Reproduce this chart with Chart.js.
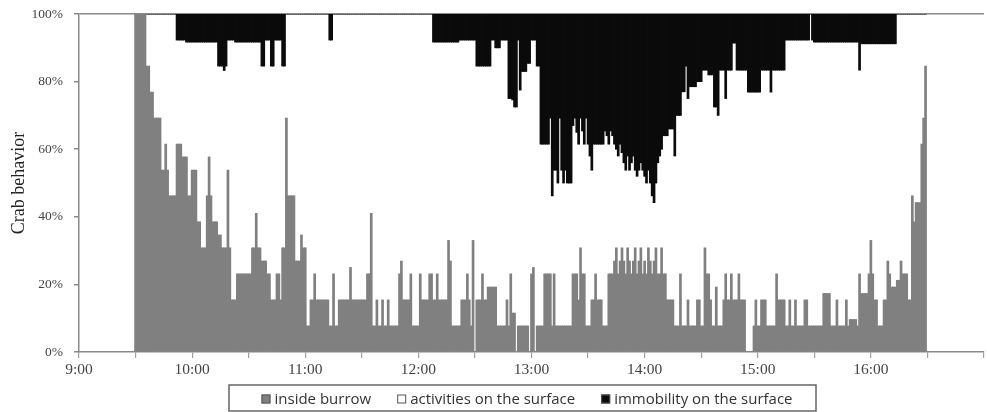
<!DOCTYPE html>
<html>
<head>
<meta charset="utf-8">
<script src="https://cdn.jsdelivr.net/npm/chart.js@4.4.1/dist/chart.umd.min.js"></script>
<style>
  html, body { margin: 0; padding: 0; background: #fff; }
</style>
</head>
<body>
<canvas id="c" width="987" height="412"></canvas>
<script>
// one bar per minute, 9:30 -> 16:29, share of crabs (%)
var startMinute = 30; // minutes after 9:00 of the first bar
var hourLabels = ['9:00', '10:00', '11:00', '12:00', '13:00', '14:00', '15:00', '16:00'];
var seriesNames = ['inside burrow', 'activities on the surface', 'immobility on the surface'];

var insideBurrow = [
  100,100,100,100,100,100,84.6,84.6,76.9,76.9,
  69.2,69.2,69.2,69.2,53.8,53.8,61.5,53.8,46.2,46.2,
  46.2,46.2,61.5,61.5,61.5,57.7,57.7,57.7,46.2,46.2,
  53.8,53.8,53.8,38.5,38.5,30.8,30.8,30.8,46.2,57.7,
  46.2,38.5,38.5,38.5,34.6,34.6,30.8,30.8,30.8,53.8,
  30.8,15.4,15.4,15.4,23.1,23.1,23.1,23.1,23.1,23.1,
  23.1,23.1,30.8,30.8,41.0,30.8,30.8,26.9,26.9,26.9,
  23.1,23.1,15.4,15.4,15.4,23.1,23.1,15.4,30.8,30.8,
  69.2,46.2,46.2,46.2,46.2,26.9,26.9,26.9,34.6,30.8,
  30.8,7.7,7.7,15.4,15.4,23.1,15.4,15.4,15.4,15.4,
  15.4,15.4,15.4,7.7,7.7,23.1,7.7,7.7,15.4,15.4,
  15.4,15.4,15.4,15.4,25.0,15.4,15.4,15.4,15.4,15.4,
  15.4,15.4,15.4,23.1,23.1,41.0,7.7,7.7,15.4,7.7,
  7.7,15.4,7.7,7.7,15.4,7.7,7.7,7.7,7.7,7.7,
  23.1,26.9,15.4,15.4,15.4,15.4,23.1,7.7,7.7,7.7,
  7.7,23.1,15.4,15.4,15.4,15.4,23.1,23.1,15.4,15.4,
  23.1,15.4,15.4,15.4,15.4,15.4,33.0,26.9,7.7,7.7,
  7.7,7.7,7.7,15.4,15.4,15.4,23.1,15.4,7.7,33.0,
  0,15.4,15.4,15.4,23.1,15.4,15.4,19.2,19.2,19.2,
  19.2,19.2,7.7,7.7,7.7,7.7,7.7,15.4,7.7,23.1,
  11.5,11.5,0,7.7,7.7,7.7,7.7,7.7,7.7,0,
  23.1,25.0,0,7.7,7.7,7.7,7.7,23.1,23.1,23.1,
  23.1,7.7,23.1,7.7,7.7,7.7,7.7,7.7,7.7,7.7,
  7.7,7.7,23.1,23.1,23.1,15.4,30.8,23.1,23.1,7.7,
  7.7,7.7,15.4,15.4,23.1,15.4,15.4,15.4,7.7,7.7,
  7.7,23.1,23.1,23.1,26.9,30.8,23.1,26.9,30.8,26.9,
  23.1,30.8,26.9,23.1,26.9,30.8,23.1,26.9,30.8,23.1,
  26.9,23.1,30.8,26.9,23.1,26.9,30.8,23.1,23.1,30.8,
  23.1,23.1,15.4,15.4,15.4,15.4,7.7,7.7,7.7,23.1,
  7.7,7.7,7.7,15.4,7.7,7.7,7.7,7.7,15.4,15.4,
  7.7,7.7,30.8,23.1,23.1,15.4,7.7,7.7,19.2,7.7,
  7.7,7.7,15.4,23.1,15.4,15.4,23.1,15.4,15.4,15.4,
  23.1,15.4,15.4,15.4,0,0,0,0,7.7,15.4,
  7.7,7.7,15.4,15.4,15.4,7.7,7.7,7.7,7.7,7.7,
  23.1,15.4,15.4,15.4,15.4,7.7,7.7,15.4,7.7,7.7,
  15.4,7.7,7.7,7.7,7.7,15.4,15.4,7.7,7.7,7.7,
  7.7,7.7,7.7,7.7,7.7,17.3,17.3,17.3,17.3,7.7,
  7.7,7.7,15.4,7.7,7.7,7.7,7.7,15.4,7.7,9.6,
  9.6,9.6,9.6,7.7,23.1,17.3,17.3,17.3,17.3,23.1,
  33.0,23.1,15.4,15.4,7.7,7.7,7.7,15.4,15.4,26.9,
  23.1,19.2,19.2,19.2,21.2,21.2,26.9,23.1,23.1,23.1,
  15.4,15.4,46.2,38.5,44.2,44.2,44.2,61.5,69.2,84.6
];

var immobility = [
  0,0,0,0,0,0,0,0,0,0,
  0,0,0,0,0,0,0,0,0,0,
  0,0,7.7,7.7,7.7,7.7,7.7,8.3,8.3,8.3,
  8.3,8.3,8.3,8.3,8.3,8.3,8.3,8.3,8.3,8.3,
  8.3,8.3,8.3,8.3,15.4,15.4,15.4,16.7,15.4,7.7,
  7.7,7.7,7.7,8.3,8.3,8.3,8.3,8.3,8.3,8.3,
  8.3,8.3,8.3,8.3,8.3,8.3,8.3,15.4,15.4,7.7,
  7.7,7.7,15.4,15.4,7.7,7.7,7.7,7.7,15.4,15.4,
  0,0,0,0,0,0,0,0,0,0,
  0,0,0,0,0,0,0,0,0,0,
  0,0,0,7.7,7.7,0,0,0,0,0,
  0,0,0,0,0,0,0,0,0,0,
  0,0,0,0,0,0,0,0,0,0,
  0,0,0,0,0,0,0,0,0,0,
  0,0,0,0,0,0,0,0,0,0,
  0,0,0,0,0,0,0,0,8.3,8.3,
  8.3,8.3,8.3,8.3,8.3,8.3,8.3,8.3,8.3,8.3,
  8.3,8.3,7.7,7.7,7.7,7.7,7.7,7.7,7.7,7.7,
  7.7,15.4,15.4,15.4,15.4,15.4,15.4,15.4,15.4,7.7,
  7.7,10,10,10,7.7,7.7,7.7,7.7,25,25,
  25.4,27.5,27.5,7.7,22.5,17,17,17,14.6,14.6,
  7.7,7.7,7.7,15.4,15.4,38.5,38.5,38.5,38.5,38.5,
  30.8,53.8,46.2,46.2,50,30.8,46.2,50,46.2,50,
  50,50,33,30.8,35,38.5,30.8,34.6,38.5,30.8,
  38.5,42,46.2,38.5,38.5,38.5,38.5,38.5,38.5,34.6,
  36,38.5,34.6,36,38.5,40,42,38.5,41,44,
  46.2,42,46.2,44,42,46.2,48,46.2,44,46.2,
  48,50,46.2,50,53.8,55.8,50,44,42,40,
  36,36,36,34,34,34,42,30,30,30,
  23,23,15.4,25,21.5,21.5,21.5,21.5,20,20,
  20,16.6,16.6,16.6,18,18,18,27.5,27.5,30,
  16.6,16.6,16.6,25,16.6,16.6,16.6,8.6,8.6,16.6,
  16.6,16.6,16.6,16.6,16.6,23.1,23.1,23.1,23.1,23.1,
  23.1,23.1,16.6,16.6,16.6,16.6,16.6,23.1,16.6,16.6,
  16.6,16.6,16.6,16.6,16.6,7.7,7.7,7.7,7.7,7.7,
  7.7,7.7,7.7,7.7,7.7,7.7,7.7,7.7,0,7.7,
  8.3,8.3,8.3,8.3,8.3,8.3,8.3,8.3,8.3,8.3,
  8.3,8.3,8.3,8.3,8.3,8.3,8.3,8.3,8.3,8.3,
  8.3,8.3,8.3,8.3,16.6,8.8,8.8,8.8,8.8,8.8,
  8.8,8.8,8.8,8.8,8.8,8.8,8.8,8.8,8.8,8.8,
  8.8,8.8,8.8,8.8,0,0,0,0,0,0,
  0,0,0,0,0,0,0,0,0,0
];

// what is left over is the time spent active on the surface
var activities = insideBurrow.map(function (v, i) {
  return Math.max(0, Math.round((100 - v - immobility[i]) * 10) / 10);
});

function toPoints(arr) {
  return arr.map(function (v, i) { return { x: startMinute + i, y: v }; });
}

var legendColors = ['#808080', '#ffffff', '#0b0b0b'];
var axisGray = '#8a8a8a';
var serif = 'Liberation Serif';

// boxed legend under the axis, like the original
var boxedLegend = {
  id: 'boxedLegend',
  afterDraw: function (chart) {
    var ctx = chart.ctx;
    var area = chart.chartArea;
    var sq = 9, gap = 4, spacing = 26;
    ctx.save();
    ctx.font = '15px "Open Sans"';
    var widths = seriesNames.map(function (n) { return sq + gap + ctx.measureText(n).width; });
    var total = widths.reduce(function (a, b) { return a + b; }, 0) + spacing * (widths.length - 1);
    var x = (area.left + area.right) / 2 - 4.5 - total / 2;
    var cy = area.bottom + 47;
    ctx.strokeStyle = '#666';
    ctx.lineWidth = 1.5;
    ctx.strokeRect(Math.round(x - 32), Math.round(cy - 14), Math.round(total + 56), 26);
    ctx.textBaseline = 'middle';
    seriesNames.forEach(function (n, i) {
      ctx.fillStyle = legendColors[i];
      ctx.fillRect(x, cy - sq / 2, sq, sq);
      ctx.strokeStyle = '#555';
      ctx.lineWidth = 1;
      ctx.strokeRect(x + 0.5, cy - sq / 2 + 0.5, sq - 1, sq - 1);
      ctx.fillStyle = '#333';
      ctx.fillText(n, x + sq + gap, cy + 1);
      x += widths[i] + spacing;
    });
    ctx.restore();
  }
};

new Chart(document.getElementById('c'), {
  type: 'bar',
  data: {
    datasets: [
      { label: seriesNames[0], data: toPoints(insideBurrow), backgroundColor: '#808080' },
      { label: seriesNames[1], data: toPoints(activities), backgroundColor: 'rgba(255,255,255,0)' },
      { label: seriesNames[2], data: toPoints(immobility), backgroundColor: '#0b0b0b' }
    ]
  },
  options: {
    responsive: false,
    animation: false,
    layout: { padding: { top: 14, right: 3, left: 0, bottom: 30 } },
    datasets: {
      bar: { barPercentage: 1, categoryPercentage: 1, borderWidth: 0, inflateAmount: 0.4 }
    },
    plugins: {
      tooltip: { enabled: false },
      legend: { display: false }
    },
    scales: {
      x: {
        type: 'linear',
        stacked: true,
        min: 0,
        max: 480,
        offset: false,
        border: { color: axisGray, width: 1.5 },
        grid: {
          offset: false,
          drawOnChartArea: false,
          tickLength: 6,
          lineWidth: 1.2,
          tickColor: '#a0a0a0'
        },
        ticks: {
          stepSize: 30,
          autoSkip: false,
          maxRotation: 0,
          padding: 3,
          color: '#444',
          font: { family: serif, size: 15.5 },
          callback: function (v) {
            return v % 60 === 0 && v < 480 ? hourLabels[v / 60] : '';
          }
        },
        afterFit: function (s) { s.height = 30; }
      },
      y: {
        stacked: true,
        min: 0,
        max: 100,
        border: { color: axisGray, width: 1.5 },
        grid: {
          lineWidth: 1.5,
          tickLength: 5,
          tickColor: axisGray,
          color: function (ctx) {
            return ctx.tick && ctx.tick.value === 100 ? axisGray : 'rgba(0,0,0,0)';
          }
        },
        ticks: {
          stepSize: 20,
          padding: 11,
          color: '#444',
          font: { family: serif, size: 13.5 },
          callback: function (v) { return v + '%'; }
        },
        title: {
          display: true,
          text: 'Crab behavior',
          color: '#222',
          font: { family: serif, size: 18 },
          padding: { top: 8, bottom: 0 }
        },
        afterFit: function (s) {
          s.width = 79;
          // keep the plot top where the original has it
          s.paddingTop = 0;
          s.paddingBottom = 0;
        }
      }
    }
  },
  plugins: [boxedLegend]
});
</script>
</body>
</html>
